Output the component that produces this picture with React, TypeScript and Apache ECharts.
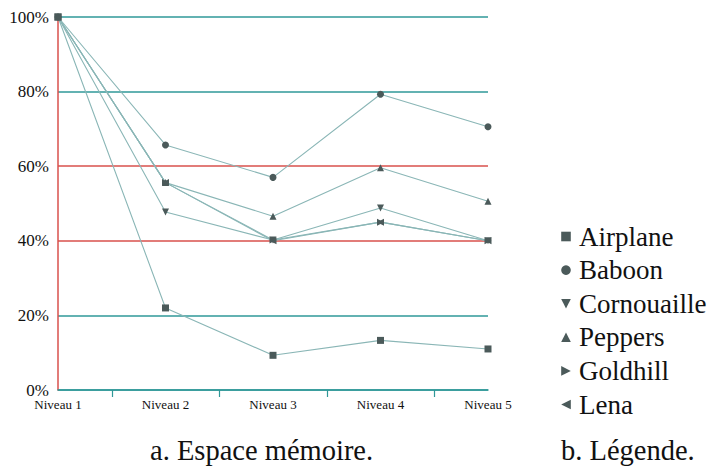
import React, { useEffect, useRef } from "react";
import * as echarts from "echarts";

const levels = ["Niveau 1", "Niveau 2", "Niveau 3", "Niveau 4", "Niveau 5"];
const yTicks = [0, 20, 40, 60, 80, 100];

const airplane = [100, 22, 9.3, 13.3, 11];
const baboon = [100, 65.7, 57, 79.3, 70.6];
const cornouaille = [100, 47.7, 40.2, 48.8, 40];
const peppers = [100, 55.6, 46.6, 59.6, 50.6];
const goldhill = [100, 55.6, 40.2, 45, 40];
const lena = [100, 55.6, 40, 45, 40];

const seriesDefs = [
  { name: "Airplane", data: airplane, symbol: "rect", rotate: 0 },
  { name: "Baboon", data: baboon, symbol: "circle", rotate: 0 },
  { name: "Cornouaille", data: cornouaille, symbol: "triangle", rotate: 180 },
  { name: "Peppers", data: peppers, symbol: "triangle", rotate: 0 },
  { name: "Goldhill", data: goldhill, symbol: "triangle", rotate: -90 },
  { name: "Lena", data: lena, symbol: "triangle", rotate: 90 },
];

const SERIF = "Liberation Serif";
const TEAL = "#2f9898";
const RED = "#d8514d";

export default function App() {
  const ref = useRef<HTMLDivElement>(null);
  useEffect(() => {
    if (!ref.current) return;
    const chart = echarts.init(ref.current, null, { renderer: "svg" });
    chart.setOption({
      animation: false,
      backgroundColor: "#ffffff",
      textStyle: { fontFamily: SERIF },
      grid: { left: 58, right: 220, top: 17, bottom: 79 },
      xAxis: {
        type: "value",
        min: 0,
        max: levels.length - 1,
        interval: 1,
        axisLine: { show: true, lineStyle: { color: TEAL, width: 1.5 } },
        axisTick: { show: false },
        minorTick: { show: true, splitNumber: 2, length: 7, lineStyle: { color: TEAL, width: 1.2 } },
        splitLine: { show: false },
        axisLabel: {
          fontFamily: SERIF,
          fontSize: 13,
          color: "#111",
          margin: 8,
          formatter: (v: number) => levels[Math.round(v)] ?? "",
        },
      },
      yAxis: {
        type: "value",
        min: 0,
        max: 100,
        interval: 20,
        axisLine: { show: true, lineStyle: { color: RED, width: 1.5 } },
        axisTick: { show: false },
        axisLabel: {
          fontFamily: SERIF,
          fontSize: 17,
          color: "#111",
          margin: 9,
          formatter: (v: number) => (yTicks.includes(v) ? v + "%" : ""),
        },
        splitLine: {
          show: true,
          lineStyle: { color: [TEAL, TEAL, RED, RED, TEAL, TEAL], width: 1.5 },
        },
      },
      legend: {
        orient: "vertical",
        left: 552,
        top: 218,
        itemWidth: 16,
        itemHeight: 12,
        itemGap: 6.6,
        lineStyle: { opacity: 0 },
        textStyle: { fontFamily: SERIF, fontSize: 27, color: "#111" },
        data: seriesDefs.map((s) => s.name),
      },
      series: seriesDefs.map((s) => ({
        type: "line",
        name: s.name,
        data: s.data.map((v, i) => [i, v]),
        symbol: s.symbol,
        symbolRotate: s.rotate,
        symbolSize: 7,
        showSymbol: true,
        lineStyle: { color: "#8ab6b6", width: 1.1 },
        itemStyle: { color: "#4b5a5a", borderWidth: 0 },
        emphasis: { disabled: true },
      })),
      graphic: [
        {
          type: "text",
          left: 150,
          top: 436,
          style: { text: "a. Espace mémoire.", fontFamily: SERIF, fontSize: 28.5, fill: "#111" },
        },
        {
          type: "text",
          left: 561,
          top: 436,
          style: { text: "b. Légende.", fontFamily: SERIF, fontSize: 28.5, fill: "#111" },
        },
      ],
    });
    return () => chart.dispose();
  }, []);
  return <div ref={ref} style={{ width: 708, height: 469, position: "absolute", left: 0, top: 0 }} />;
}
